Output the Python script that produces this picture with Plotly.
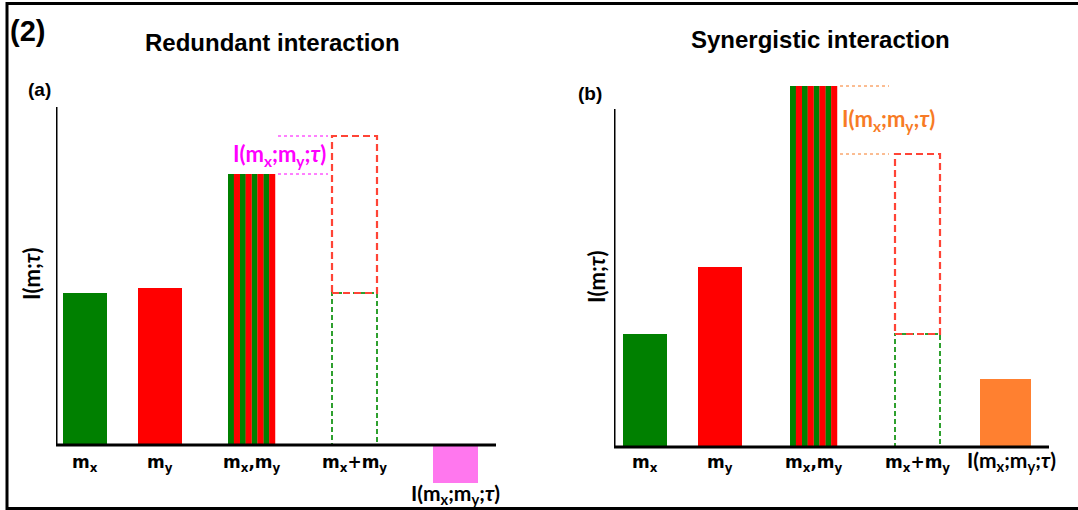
import plotly.graph_objects as go

W, H = 1078, 510

# category labels along each panel
categories = [
    "m<sub>x</sub>",
    "m<sub>y</sub>",
    "m<sub>x</sub>,m<sub>y</sub>",
    "m<sub>x</sub>+m<sub>y</sub>",
    "I(m<sub>x</sub>;m<sub>y</sub>;<i>τ</i>)",
]

# information carried about tau (arbitrary units)
redundant_mx = 1.52
redundant_my = 1.57
redundant_joint = 2.71

synergistic_mx = 1.13
synergistic_my = 1.80
synergistic_joint = 3.61

# slot centres and bar widths along each panel's x axis
slots_a = [0.29, 1.04, 1.955, 2.985, 3.995]
widths_a = [0.44, 0.44, 0.47, 0.45, 0.45]
slots_b = [0.31, 1.06, 1.995, 3.035, 3.915]
widths_b = [0.44, 0.44, 0.47, 0.45, 0.51]

GREEN = "#008000"
RED = "#ff0000"
PINK = "#ff77ee"
ORANGE = "#ff8030"
MAGENTA = "#ff00ff"
ORANGE_TXT = "#f77b25"
DASH_RED = "#ff4436"
DASH_GREEN = "#2ea02e"

TICK_FONT = dict(family="DejaVu Sans", size=17, color="black", weight="bold")
I_FONT = dict(family="Lato", size=21, color="black", weight="bold")


def px_x(p):
    return p / W


def px_y(p):
    return 1 - p / H


fig = go.Figure()
shapes = []
annotations = []


def panel(xa, ya, mx, my, joint, slots, widths, syn_color, lab_color, lab_left,
          ytop, shift_last, last_y):
    xr = "x" if xa == "xaxis" else "x2"
    yr = "y" if ya == "yaxis" else "y2"
    total = mx + my
    syn = joint - total

    # single-variable bars and the interaction bar
    fig.add_trace(go.Bar(
        x=[slots[0], slots[1], slots[4]],
        y=[mx, my, syn],
        width=[widths[0], widths[1], widths[4]],
        marker=dict(color=[GREEN, RED, syn_color], line=dict(width=0)),
        xaxis=xr, yaxis=yr, showlegend=False, hoverinfo="skip",
    ))

    # joint bar drawn as alternating green / red stripes
    n = 8
    w = widths[2]
    s = w / n
    for colour, ks in ((GREEN, range(0, n, 2)), (RED, range(1, n, 2))):
        ks = list(ks)
        fig.add_trace(go.Bar(
            x=[slots[2]] * len(ks),
            y=[joint] * len(ks),
            offset=[-w / 2 + k * s for k in ks],
            width=[s * 1.04] * len(ks),
            marker=dict(color=colour, line=dict(width=0)),
            xaxis=xr, yaxis=yr, showlegend=False, hoverinfo="skip",
        ))

    # dashed stacked outline for the sum mx + my
    x0 = slots[3] - widths[3] / 2
    x1 = slots[3] + widths[3] / 2
    shapes.append(dict(type="rect", xref=xr, yref=yr, x0=x0, x1=x1, y0=0, y1=mx,
                       line=dict(color=DASH_GREEN, width=2, dash="5px,3px")))
    shapes.append(dict(type="rect", xref=xr, yref=yr, x0=x0, x1=x1, y0=mx, y1=total,
                       line=dict(color=DASH_RED, width=2.2, dash="7px,4px")))

    # dotted guides marking the interaction gap
    gx0 = slots[2] + widths[2] / 2 + 0.03
    gx1 = x0 - (0.04 if lab_left else 0.06)
    for yv in (joint, total):
        shapes.append(dict(type="line", xref=xr, yref=yr, x0=gx0, x1=gx1, y0=yv, y1=yv,
                           line=dict(color=lab_color, width=1, dash="dot")))
    annotations.append(dict(
        xref=xr, yref=yr,
        x=gx1 if lab_left else gx0,
        xanchor="right" if lab_left else "left",
        y=(joint + total) / 2, yanchor="middle",
        text=categories[4], showarrow=False,
        font=dict(family="Lato", size=22, color=lab_color, weight="bold"),
    ))

    # axis lines
    dom = fig.layout[xa].range
    shapes.append(dict(type="line", xref=xr, yref=yr, x0=0, x1=dom[1], y0=0, y1=0,
                       line=dict(color="black", width=3)))
    shapes.append(dict(type="line", xref=xr, yref=yr, x0=0, x1=0, y0=0, y1=ytop,
                       line=dict(color="black", width=3)))

    # category labels
    for i in range(4):
        annotations.append(dict(
            xref=xr, yref="paper", x=slots[i], y=px_y(450), yanchor="top",
            text=categories[i], showarrow=False, font=TICK_FONT,
        ))
    annotations.append(dict(
        xref=xr, yref="paper", x=slots[4], y=px_y(last_y), yanchor="middle",
        xshift=shift_last, text=categories[4], showarrow=False, font=I_FONT,
    ))


fig.update_layout(
    width=W, height=H, autosize=False,
    margin=dict(l=0, r=0, t=0, b=0),
    paper_bgcolor="white", plot_bgcolor="white",
    barmode="overlay",
    xaxis=dict(domain=[px_x(56), px_x(496)], range=[0, 4.40], visible=False, fixedrange=True),
    yaxis=dict(domain=[px_y(500), px_y(70)], range=[-0.55, 3.75], visible=False, fixedrange=True),
    xaxis2=dict(domain=[px_x(614), px_x(1049)], range=[0, 4.35], visible=False,
                anchor="y2", fixedrange=True),
    yaxis2=dict(domain=[px_y(500), px_y(70)], range=[-0.53, 3.77], visible=False,
                anchor="x2", fixedrange=True),
)

panel("xaxis", "yaxis", redundant_mx, redundant_my, redundant_joint,
      slots_a, widths_a, PINK, MAGENTA, True, 3.38, 0, 494)
panel("xaxis2", "yaxis2", synergistic_mx, synergistic_my, synergistic_joint,
      slots_b, widths_b, ORANGE, ORANGE_TXT, False, 3.38, 6, 461)

# outer frame
shapes.append(dict(type="rect", xref="paper", yref="paper",
                   x0=px_x(7), x1=px_x(1085), y0=px_y(508.5), y1=px_y(3.5),
                   line=dict(color="black", width=3)))

TITLE_FONT = dict(family="Liberation Sans", size=24, color="black", weight="bold")
LABEL_FONT = "Liberation Sans"

annotations += [
    dict(xref="paper", yref="paper", x=px_x(272), y=px_y(42), text="Redundant interaction",
         showarrow=False, font=TITLE_FONT, xanchor="center", yanchor="middle"),
    dict(xref="paper", yref="paper", x=px_x(820), y=px_y(40), text="Synergistic interaction",
         showarrow=False, font=TITLE_FONT, xanchor="center", yanchor="middle"),
    dict(xref="paper", yref="paper", x=px_x(27), y=px_y(31), text="(2)", showarrow=False,
         font=dict(family=LABEL_FONT, size=29, color="black", weight="bold"),
         xanchor="center", yanchor="middle"),
    dict(xref="paper", yref="paper", x=px_x(39), y=px_y(89), text="(a)", showarrow=False,
         font=dict(family=LABEL_FONT, size=19, color="black", weight="bold"),
         xanchor="center", yanchor="middle"),
    dict(xref="paper", yref="paper", x=px_x(590), y=px_y(93), text="(b)", showarrow=False,
         font=dict(family=LABEL_FONT, size=19, color="black", weight="bold"),
         xanchor="center", yanchor="middle"),
    dict(xref="paper", yref="paper", x=px_x(31), y=px_y(274), text="I(m;<i>τ</i>)",
         showarrow=False, textangle=-90, font=dict(family="Lato", size=22, color="black", weight="bold"),
         xanchor="center", yanchor="middle"),
    dict(xref="paper", yref="paper", x=px_x(596), y=px_y(277), text="I(m;<i>τ</i>)",
         showarrow=False, textangle=-90, font=dict(family="Lato", size=22, color="black", weight="bold"),
         xanchor="center", yanchor="middle"),
]

fig.update_layout(shapes=shapes, annotations=annotations)
fig.write_html("out.html", config={"displayModeBar": False})
